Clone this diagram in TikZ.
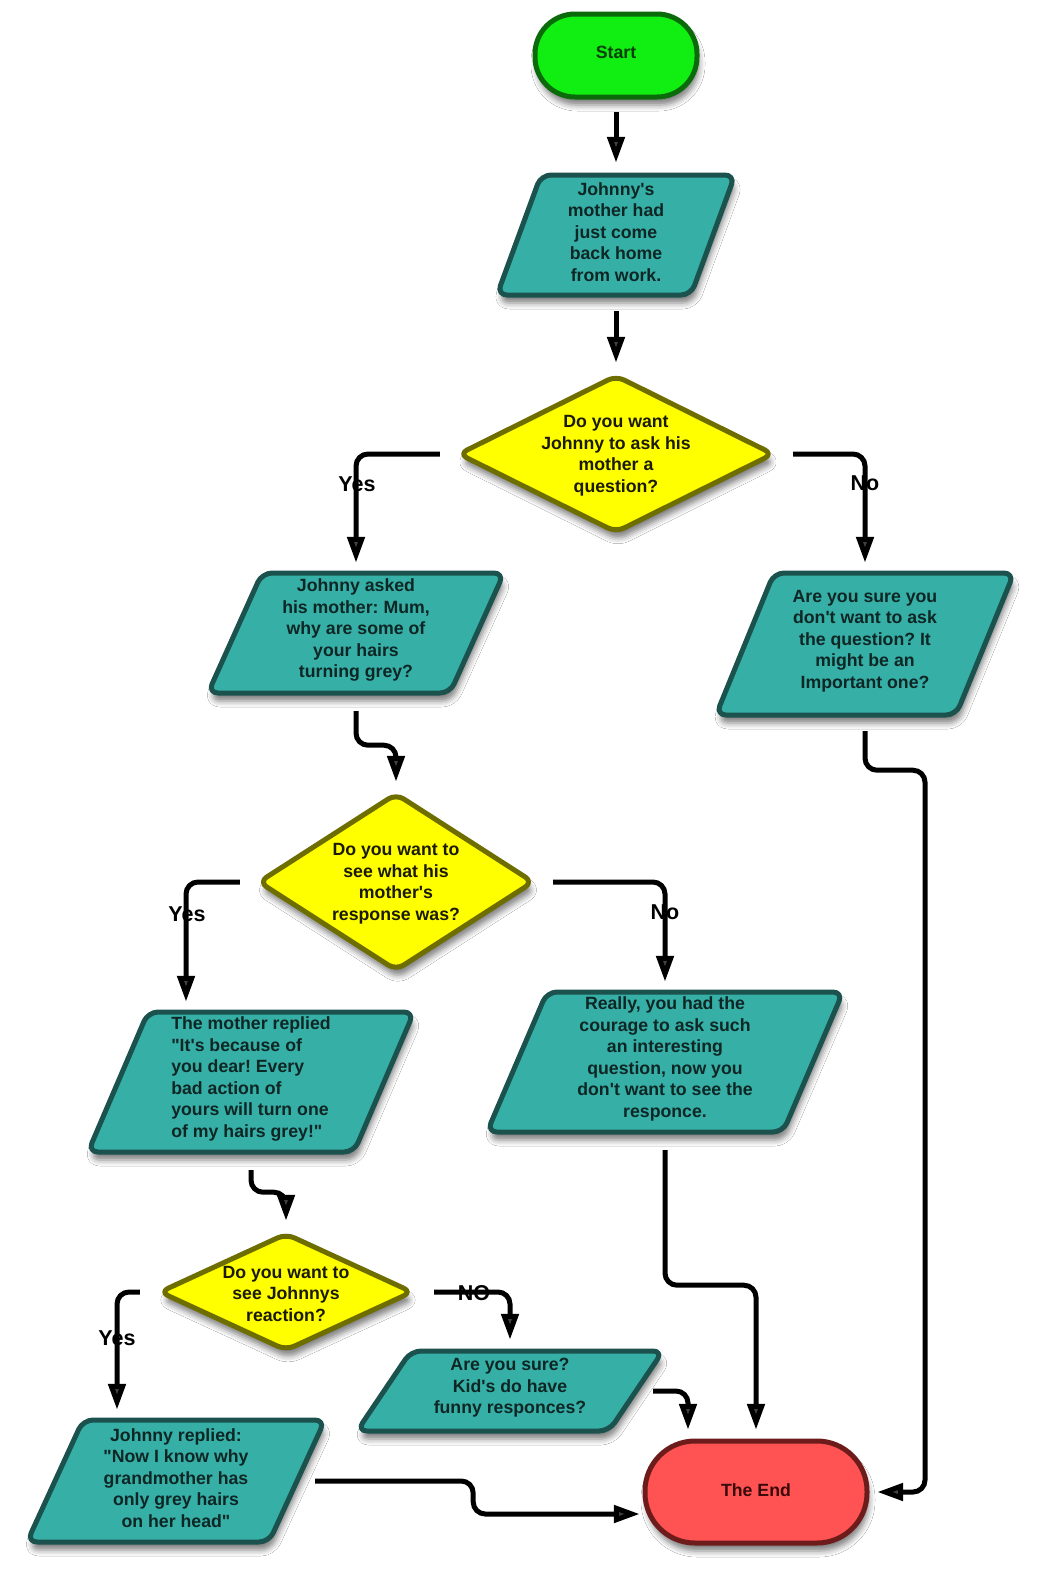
\documentclass[tikz,border=0pt]{standalone}
\usepackage{fontspec}
\setmainfont{Liberation Sans}[Ligatures=TeXOff]
\usetikzlibrary{arrows.meta,shadows.blur}
\frenchspacing

\definecolor{startfill}{HTML}{11EE11}
\definecolor{startline}{HTML}{0B6B0B}
\definecolor{starttext}{HTML}{0A3F0A}
\definecolor{iofill}{HTML}{36AFA7}
\definecolor{ioline}{HTML}{1B524D}
\definecolor{iotext}{HTML}{0E2624}
\definecolor{askfill}{HTML}{FFFF00}
\definecolor{askline}{HTML}{6E6E00}
\definecolor{asktext}{HTML}{1A1A05}
\definecolor{endfill}{HTML}{FF5252}
\definecolor{endline}{HTML}{6E1B1B}
\definecolor{endtext}{HTML}{3A0A0A}

\tikzset{
  softshadow/.style={blur shadow={shadow xshift=2pt,shadow yshift=-8pt,shadow blur radius=6pt,shadow opacity=50}},
  iopath/.style={fill=iofill,draw=ioline,line width=5pt,rounded corners=10pt,line join=round,softshadow},
  askpath/.style={fill=askfill,draw=askline,line width=5pt,rounded corners=9pt,line join=round,softshadow},
  termpath/.style={line width=5pt,softshadow},
  txt/.style={font=\fontsize{17.7}{21.5}\selectfont\bfseries,align=center,inner sep=0pt},
  frame/.style={inner sep=0pt},
  flow/.style={line width=5pt,-{Triangle[length=26pt,width=17pt]},rounded corners=12pt},
  lbl/.style={font=\fontsize{21.5}{24}\selectfont\bfseries,inner sep=0pt},
}

% input/output box: [align] name, cx, cy, half width, half height, slant, text
\newcommand\iobox[8][center]{%
  \path[iopath] (#3-#5+#7,#4-#6) -- (#3+#5+#7,#4-#6) -- (#3+#5-#7,#4+#6)
    -- (#3-#5-#7,#4+#6) -- cycle;
  \node[frame,minimum width={(2*#5)*1pt},minimum height={(2*#6)*1pt}] (#2) at (#3,#4) {};
  \node[txt,align=#1,text=iotext] (#2-text) at (#3,#4-3) {#8};%
}
% decision: name, cx, cy, half width, half height, text
\newcommand\askbox[6]{%
  \path[askpath] (#2-#4,#3) -- (#2,#3-#5) -- (#2+#4,#3) -- (#2,#3+#5) -- cycle;
  \node[frame,minimum width={(2*#4)*1pt},minimum height={(2*#5)*1pt}] (#1) at (#2,#3) {};
  \node[txt,text=asktext] (#1-text) at (#2,#3+1.5) {#6};%
}

\begin{document}
\begin{tikzpicture}[x=1pt,y=-1pt]
\path[use as bounding box,fill=white] (0,0) rectangle (1042,1572);

% terminals
\path[termpath,fill=startfill,draw=startline,rounded corners=40pt] (535,14) rectangle (697,97);
\node[frame,minimum width=162pt,minimum height=83pt] (startnode) at (616,55.5) {};
\node[txt,text=starttext] (starttext) at (616,52) {Start};

\path[termpath,fill=endfill,draw=endline,rounded corners=50pt] (645,1441) rectangle (867,1543);
\node[frame,minimum width=222pt,minimum height=102pt] (endnode) at (756,1492) {};
\node[txt,text=endtext] (endtext) at (756,1490) {The End};

% input/output boxes
\iobox{p1}{616}{235}{97}{60}{22}{Johnny's\\mother had\\just come\\back home\\from work.}
\iobox{p2}{356}{633}{121}{60}{27}{Johnny asked\\his mother: Mum,\\why are some of\\your hairs\\turning grey?}
\iobox{p3}{865}{644}{120}{71}{29}{Are you sure you\\don't want to ask\\the question? It\\might be an\\Important one?}
\iobox[left]{p4}{251}{1082}{133}{70}{30}{The mother replied\\"It's because of\\you dear! Every\\bad action of\\yours will turn one\\of my hairs grey!"}
\iobox{p5}{665}{1062}{148}{70}{30}{Really, you had the\\courage to ask such\\an interesting\\question, now you\\don't want to see the\\responce.}
\iobox{p6}{510}{1391}{126}{40}{27}{Are you sure?\\Kid's do have\\funny responces?}
\iobox{p7}{176}{1481}{121}{61}{28}{Johnny replied:\\"Now I know why\\grandmother has\\only grey hairs\\on her head"}

% decisions
\askbox{d1}{616}{454}{157}{78}{Do you want\\Johnny to ask his\\mother a\\question?}
\askbox{d2}{396}{882}{137}{88}{Do you want to\\see what his\\mother's\\response was?}
\askbox{d3}{286}{1292}{126}{58}{Do you want to\\see Johnnys\\reaction?}

% connectors
\draw[flow,shorten <=15pt,shorten >=12pt] (startnode.south) -- (startnode.south |- p1.north);
\draw[flow,shorten <=16pt,shorten >=13pt] (p1.south) -- (p1.south |- d1.north);

\draw[flow,shorten <=19pt,shorten >=10pt] (d1.west) -| (p2.north);
\node[lbl] (yes1) at (357,484) {Yes};
\draw[flow,shorten <=20pt,shorten >=10pt] (d1.east) -| (p3.north);
\node[lbl] (no1) at (865,483) {No};

\draw[flow,shorten <=18pt,shorten >=12pt] (p2.south) -- ++(0,52) -| (d2.north);

\draw[flow,shorten <=19pt,shorten >=10pt] (d2.west) -| ([xshift=-65pt]p4.north);
\node[lbl] (yes2) at (187,914) {Yes};
\draw[flow,shorten <=20pt,shorten >=10pt] (d2.east) -| (p5.north);
\node[lbl] (no2) at (665,912) {No};

\draw[flow,shorten <=18pt,shorten >=13pt] (p4.south) -- ++(0,40) -| (d3.north);

\draw[flow,shorten <=20pt,shorten >=10pt] (d3.west) -| ([xshift=-59pt]p7.north);
\node[lbl] (yes3) at (117,1338) {Yes};
\draw[flow,shorten <=22pt,shorten >=11pt] (d3.east) -| (p6.north);
\node[lbl] (no3) at (474,1293) {NO};

\draw[flow,shorten <=17pt,shorten >=11pt] (p6.east) -| ([xshift=-68pt]endnode.north);
\draw[flow,shorten <=18pt,shorten >=11pt] (p5.south) -- ++(0,153) -| (endnode.north);
\draw[flow,shorten <=16pt,shorten >=10pt] (p3.south) -- ++(0,55) -- ++(60,0) |- (endnode.east);
\draw[flow,shorten <=18pt,shorten >=5pt] (p7.east) -- ++(176,0) |- ([yshift=-22pt]endnode.west);
\end{tikzpicture}
\end{document}
